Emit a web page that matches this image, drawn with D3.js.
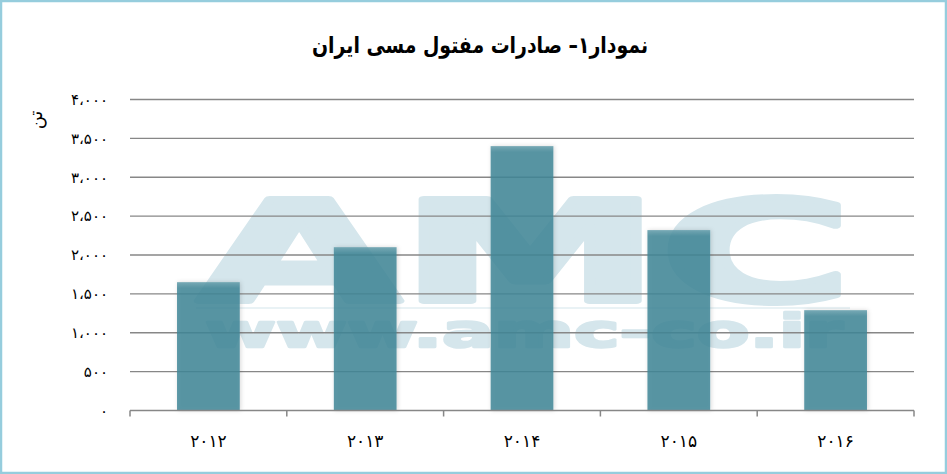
<!DOCTYPE html>
<html>
<head>
<meta charset="utf-8">
<script src="https://cdn.jsdelivr.net/npm/d3@7"></script>
<style>
  html, body { margin: 0; padding: 0; background: #fff; }
  svg { display: block; }
</style>
</head>
<body>
<svg id="chart"></svg>
<script>
// chart data
const years = ['2012', '2013', '2014', '2015', '2016'];
const yearLabels = ['۲۰۱۲', '۲۰۱۳', '۲۰۱۴', '۲۰۱۵', '۲۰۱۶'];
const exportsTon = [1650, 2100, 3400, 2320, 1290];
const yTickValues = [0, 500, 1000, 1500, 2000, 2500, 3000, 3500, 4000];
const yTickLabels = ['۰', '۵۰۰', '۱،۰۰۰', '۱،۵۰۰', '۲،۰۰۰', '۲،۵۰۰', '۳،۰۰۰', '۳،۵۰۰', '۴،۰۰۰'];
const titleText = 'نمودار۱– صادرات مفتول مسی ایران';
const unitText = 'تن';

const W = 947, H = 474;
const margin = { top: 99.5, right: 33, bottom: 63.5, left: 130 };
const width = W - margin.left - margin.right;
const height = H - margin.top - margin.bottom;

const svg = d3.select('#chart')
    .attr('width', W)
    .attr('height', H);

// defs: bar shadow and top sheen
const defs = svg.append('defs');
const shadow = defs.append('filter')
    .attr('id', 'barShadow')
    .attr('x', '-20%').attr('y', '-5%')
    .attr('width', '140%').attr('height', '110%');
shadow.append('feDropShadow')
    .attr('dx', 1).attr('dy', 0)
    .attr('stdDeviation', 2)
    .attr('flood-color', '#000')
    .attr('flood-opacity', 0.18);

const sheen = defs.append('linearGradient')
    .attr('id', 'sheen')
    .attr('x1', 0).attr('y1', 0).attr('x2', 0).attr('y2', 1);
sheen.append('stop').attr('offset', 0).attr('stop-color', '#fff').attr('stop-opacity', 0.18);
sheen.append('stop').attr('offset', 1).attr('stop-color', '#fff').attr('stop-opacity', 0);

// outer frame
svg.append('rect')
    .attr('x', 1).attr('y', 1)
    .attr('width', W - 2).attr('height', H - 2)
    .attr('fill', '#fff')
    .attr('stroke', '#96cddd')
    .attr('stroke-width', 2.5);

// watermark (heavy letters, thickened with a same-colour stroke)
const wm = svg.append('g')
    .attr('fill', '#d5e6ec')
    .attr('stroke', '#d5e6ec')
    .attr('stroke-linejoin', 'round');
wm.append('text')
    .attr('x', 198).attr('y', 301)
    .attr('font-family', 'DejaVu Sans')
    .attr('font-weight', 'bold')
    .attr('font-size', 140)
    .attr('stroke-width', 6)
    .attr('textLength', 654)
    .attr('lengthAdjust', 'spacingAndGlyphs')
    .text('AMC');
wm.append('rect')
    .attr('x', 196).attr('y', 307)
    .attr('width', 654).attr('height', 2)
    .attr('fill', '#e9f2f5')
    .attr('stroke', 'none');
wm.append('text')
    .attr('x', 205).attr('y', 347)
    .attr('font-family', 'DejaVu Sans')
    .attr('font-weight', 'bold')
    .attr('font-size', 46)
    .attr('stroke-width', 2.5)
    .attr('textLength', 638)
    .attr('lengthAdjust', 'spacingAndGlyphs')
    .text('www.amc-co.ir');

const chart = svg.append('g')
    .attr('transform', `translate(${margin.left},${margin.top})`);

// scales
const x = d3.scaleBand()
    .domain(years)
    .range([0, width])
    .paddingInner(0.6)
    .paddingOuter(0.3);
const xEdge = d3.scaleBand().domain(years).range([0, width]);
const y = d3.scaleLinear()
    .domain([0, 4000])
    .range([height, 0]);

// gridlines
chart.selectAll('.grid')
    .data(yTickValues.filter(d => d > 0))
    .join('line')
    .attr('class', 'grid')
    .attr('x1', 0).attr('x2', width)
    .attr('y1', d => y(d)).attr('y2', d => y(d))
    .attr('stroke', '#878787')
    .attr('stroke-width', 1.3);

// y tick labels
chart.selectAll('.ylabel')
    .data(yTickValues)
    .join('text')
    .attr('class', 'ylabel')
    .attr('x', -22)
    .attr('y', d => y(d))
    .attr('dy', '0.35em')
    .attr('text-anchor', 'end')
    .attr('font-family', 'DejaVu Sans')
    .attr('font-size', 15)
    .attr('letter-spacing', 2.5)
    .attr('fill', '#000')
    .text((d, i) => yTickLabels[i]);

// bars
const bars = chart.selectAll('.bar')
    .data(exportsTon)
    .join('g')
    .attr('class', 'bar');
bars.append('rect')
    .attr('x', (d, i) => x(years[i]))
    .attr('y', d => y(d))
    .attr('width', x.bandwidth())
    .attr('height', d => height - y(d))
    .attr('fill', '#3e8697')
    .attr('fill-opacity', 0.85)
    .attr('filter', 'url(#barShadow)');
bars.append('rect')
    .attr('x', (d, i) => x(years[i]))
    .attr('y', d => y(d))
    .attr('width', x.bandwidth())
    .attr('height', 6)
    .attr('fill', 'url(#sheen)');

// x axis baseline and ticks
const xAxis = chart.append('g');
xAxis.append('line')
    .attr('x1', 0).attr('x2', width)
    .attr('y1', height).attr('y2', height)
    .attr('stroke', '#878787')
    .attr('stroke-width', 1.5);
xAxis.selectAll('.xtick')
    .data([...years.map(d => xEdge(d)), width])
    .join('line')
    .attr('class', 'xtick')
    .attr('x1', d => d).attr('x2', d => d)
    .attr('y1', height).attr('y2', height + 6)
    .attr('stroke', '#878787')
    .attr('stroke-width', 1.5);
xAxis.selectAll('.xlabel')
    .data(years)
    .join('text')
    .attr('class', 'xlabel')
    .attr('x', d => xEdge(d) + xEdge.bandwidth() / 2)
    .attr('y', height + 36)
    .attr('text-anchor', 'middle')
    .attr('font-family', 'DejaVu Sans')
    .attr('font-size', 17)
    .attr('letter-spacing', 3)
    .attr('fill', '#000')
    .text((d, i) => yearLabels[i]);

// unit label
svg.append('text')
    .attr('transform', 'translate(42,120) rotate(-90)')
    .attr('text-anchor', 'middle')
    .attr('font-family', 'DejaVu Sans')
    .attr('font-size', 18)
    .attr('fill', '#000')
    .text(unitText);

// title
svg.append('text')
    .attr('x', 480)
    .attr('y', 53)
    .attr('text-anchor', 'middle')
    .attr('direction', 'rtl')
    .attr('font-family', 'DejaVu Sans')
    .attr('font-weight', 'bold')
    .attr('font-size', 23)
    .attr('textLength', 336)
    .attr('lengthAdjust', 'spacingAndGlyphs')
    .attr('fill', '#000')
    .text(titleText);
</script>
</body>
</html>
